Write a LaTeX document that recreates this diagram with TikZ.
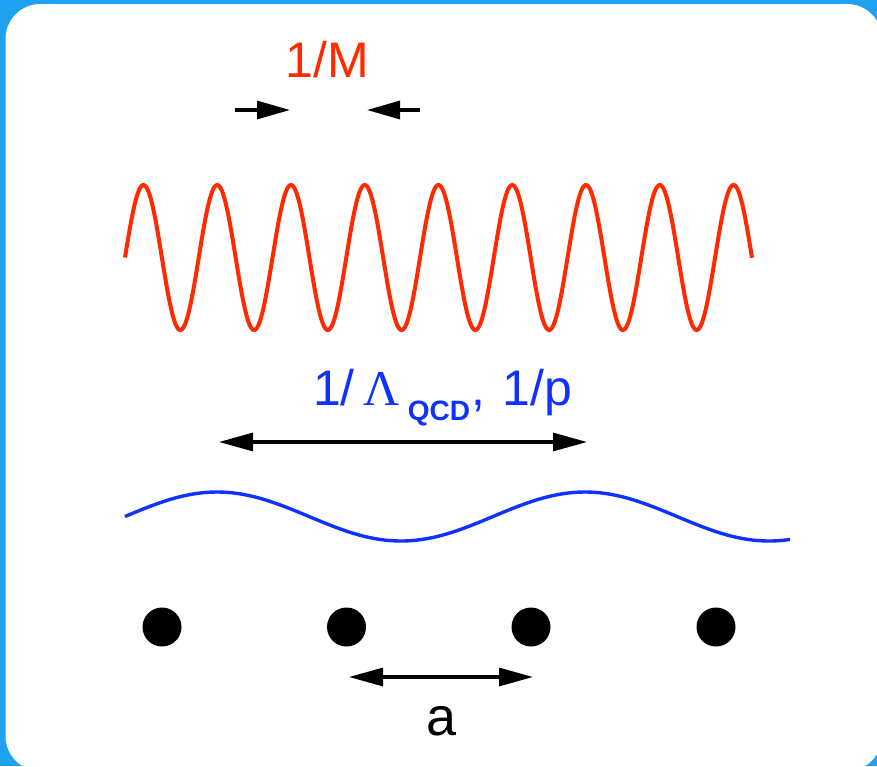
\documentclass[tikz,border=0pt]{standalone}
\usepackage{fontspec}
\newfontfamily\helv{Liberation Sans}
\newfontfamily\lamfont{Liberation Serif}
\usetikzlibrary{arrows.meta,positioning}
\definecolor{waveRed}{HTML}{FF2A00}
\definecolor{waveBlue}{HTML}{0F32FF}
\definecolor{slideBlue}{HTML}{1EA2F0}

\begin{document}
\begin{tikzpicture}[x=0.5pt, y=-0.5pt,
  dimtip/.style={line width=1.6pt, -{Triangle[length=16.5pt, width=9pt]}},
  dimboth/.style={line width=1.6pt, {Triangle[length=17pt, width=9pt]}-{Triangle[length=17pt, width=9pt]}},
  site/.style={circle, fill=black, inner sep=0pt, minimum size=19.5pt}]
  % Slide frame
  \useasboundingbox (0,0) rectangle (877,766);
  \clip (0,0) rectangle (877,766);
  \fill[slideBlue] (0,0) rectangle (877,766);
  \fill[white, rounded corners=17.5pt] (5.5,4) rectangle (882,771);

  % Heavy scale
  \node[font=\helv\fontsize{25}{30}\selectfont, text=waveRed, anchor=base] (mlabel) at (327,77) {1/M};
  \coordinate (mInL) at (235,110);
  \coordinate (mTipL) at (290,110);
  \coordinate (mInR) at (420,110);
  \coordinate (mTipR) at (367,110);
  \draw[dimtip] (mInL) -- (mTipL);
  \draw[dimtip] (mInR) -- (mTipR);
  \draw[waveRed, line width=2pt] plot[domain=125:752, samples=600]
    (\x, {257.5-72.5*sin(4.8807*(\x-125))});

  % Soft scale
  \node[font=\helv\fontsize{25}{30}\selectfont, text=waveBlue, anchor=base west, inner sep=0pt] (qcdlabel) at (312.6,405)
    {1/\hspace{4.5pt}{\lamfont Λ}\hspace{4pt}\raisebox{-7.5pt}{\bfseries\fontsize{14}{16}\selectfont QCD}\hspace{0.5pt},\hspace{2pt} 1/p};
  \coordinate (qcdL) at (219,442);
  \coordinate (qcdR) at (587,442);
  \draw[dimboth] (qcdL) -- (qcdR);
  \draw[waveBlue, line width=1.7pt] plot[domain=125:790, samples=200]
    (\x, {516.5-24.5*sin(0.97826*(\x-125))});

  % Lattice sites
  \foreach \i/\x in {1/162,2/346.5,3/531,4/716} {
    \node[site] (site\i) at (\x,627) {};
  }
  \coordinate (aL) at (349,677);
  \coordinate (aR) at (533,677);
  \draw[dimboth] (aL) -- (aR);
  \node[font=\helv\fontsize{27}{32}\selectfont, anchor=base] (alabel) at (441.5,735) {a};
\end{tikzpicture}
\end{document}
